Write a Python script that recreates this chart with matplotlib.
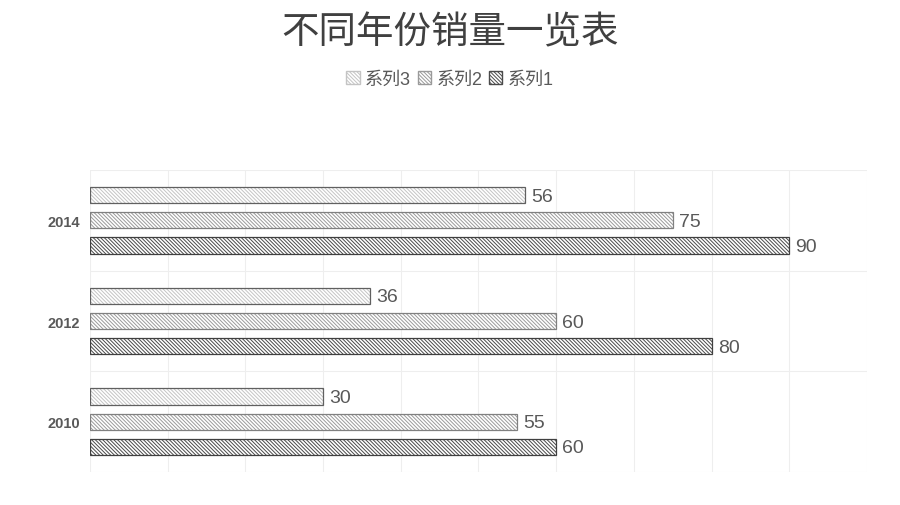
import numpy as np
import matplotlib.pyplot as plt
from matplotlib.patches import Patch

plt.rcParams['font.family'] = ['Liberation Sans', 'Noto Sans CJK SC', 'DejaVu Sans']
plt.rcParams['hatch.linewidth'] = 0.7

years = ['2010', '2012', '2014']
s1 = [60, 80, 90]
s2 = [55, 60, 75]
s3 = [30, 36, 56]

fig = plt.figure(figsize=(9, 5.06), dpi=100)
ax = fig.add_axes([0.1, 0.0652, 0.8633, 0.5968])

hatch = '\\' * 9
y = np.arange(len(years))
h = 0.16
series = [
    ('系列1', s1, -0.25, '#4a4a4a', '#404040'),
    ('系列2', s2, 0.0, '#9a9a9a', '#808080'),
    ('系列3', s3, 0.25, '#c4c4c4', '#606060'),
]
for name, vals, off, hc, ec in series:
    ax.barh(y + off, vals, height=h, color='white', edgecolor=hc, hatch=hatch, linewidth=0)
    ax.barh(y + off, vals, height=h, fill=False, edgecolor=ec, linewidth=0.9)
    for yi, v in zip(y, vals):
        ax.text(v + 0.8, yi + off - 0.01, str(v), va='center', ha='left', fontsize=14, color='#595959')

ax.set_xlim(0, 100)
ax.set_ylim(-0.5, 2.5)
ax.set_xticks(np.arange(0, 101, 10))
ax.set_xticklabels([])
ax.set_yticks([-0.5, 0.5, 1.5, 2.5], minor=False)
ax.set_yticklabels([])
ax.set_yticks(y, minor=True)
ax.set_yticklabels(years, minor=True, fontsize=10.5, fontweight='bold', color='#595959')
ax.tick_params(axis='both', which='both', length=0)
ax.tick_params(axis='y', which='minor', pad=7)
ax.grid(True, which='major', color='#eeeeee', linewidth=0.8)
ax.set_axisbelow(True)
for sp in ax.spines.values():
    sp.set_visible(False)

fig.text(0.5, 0.935, '不同年份销量一览表', ha='center', va='center', fontsize=27, color='#404040',
         family='Noto Sans CJK SC')

handles = [
    Patch(facecolor='white', edgecolor='#c4c4c4', hatch=hatch),
    Patch(facecolor='white', edgecolor='#9a9a9a', hatch=hatch),
    Patch(facecolor='white', edgecolor='#4a4a4a', hatch=hatch),
]
fig.legend(handles, ['系列3', '系列2', '系列1'], loc='center', bbox_to_anchor=(0.5, 0.842),
           ncol=3, frameon=False, fontsize=13, labelcolor='#595959',
           handlelength=0.75, handleheight=0.75, handletextpad=0.3, columnspacing=0.35)

fig.savefig('out.png', dpi=100)
